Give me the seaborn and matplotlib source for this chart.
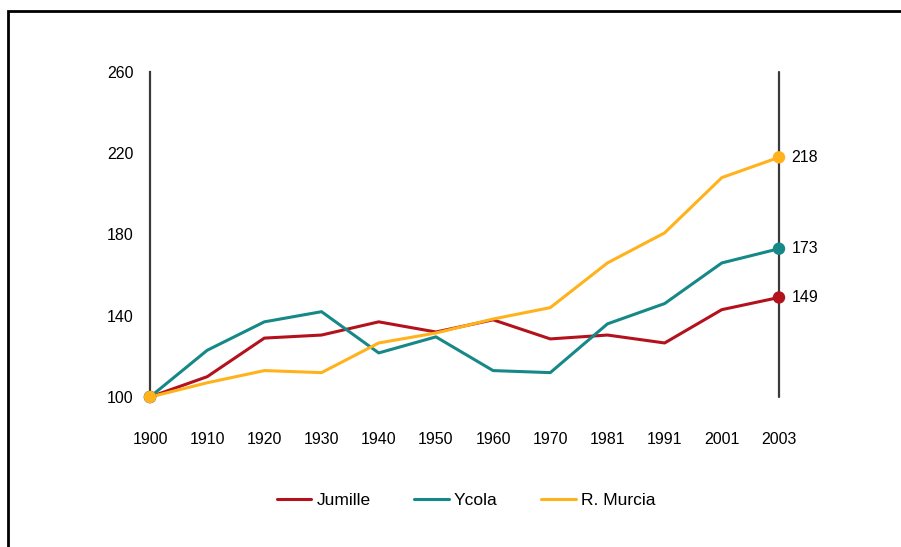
import pandas as pd
import matplotlib.pyplot as plt
import matplotlib.patches as mpatches
import seaborn as sns

years = ['1900', '1910', '1920', '1930', '1940', '1950', '1960', '1970', '1981', '1991', '2001', '2003']
jumille = [100, 110, 129, 130.5, 137, 132, 138, 128.6, 130.5, 126.6, 143, 149]
ycola = [100, 123, 137, 142, 121.7, 129.6, 113, 112, 136, 146, 166, 173]
murcia = [100, 107, 113, 112, 126.6, 131.5, 138.4, 144, 166, 180.8, 208, 218]
series_names = ['Jumille', 'Ycola', 'R. Murcia']
yticks = [100, 140, 180, 220, 260]

colors = {'Jumille': '#B3121C', 'Ycola': '#168887', 'R. Murcia': '#FFB21C'}

sns.set_style('white')
plt.rcParams['font.family'] = ['Liberation Sans', 'DejaVu Sans']

rows = []
for name, vals in zip(series_names, [jumille, ycola, murcia]):
    for i, v in enumerate(vals):
        rows.append({'pos': i, 'year': years[i], 'value': v, 'serie': name})
df = pd.DataFrame(rows)

fig = plt.figure(figsize=(9.01, 5.47), dpi=100)
ax = fig.add_axes([150/901, 1-397/547, (779-150)/901, (397-72)/547])

sns.lineplot(data=df, x='pos', y='value', hue='serie', palette=colors,
             linewidth=2.2, ax=ax, legend=True)

# start / end points
ends = df[df['pos'].isin([0, len(years)-1])]
sns.scatterplot(data=ends, x='pos', y='value', hue='serie', palette=colors,
                s=80, edgecolor='none', ax=ax, legend=False, zorder=5, clip_on=False)

last = df[df['pos'] == len(years)-1]
for _, r in last.iterrows():
    ax.text(len(years)-1 + 0.22, r['value'], f"{r['value']:.0f}", va='center', ha='left',
            fontsize=11.5, color='black')

ax.axvline(len(years)-1, color='#3a3a3a', lw=1.6, zorder=1, clip_on=False)

ax.set_xlim(0, len(years)-1)
ax.set_ylim(100, 260)
ax.set_xticks(range(len(years)))
ax.set_xticklabels(years)
ax.set_yticks(yticks)
ax.set_xlabel('')
ax.set_ylabel('')
ax.tick_params(axis='x', length=0, pad=25, labelsize=11.5, labelcolor='black')
ax.tick_params(axis='y', length=0, pad=12, labelsize=11.5, labelcolor='black')
for side in ['top', 'right', 'bottom']:
    ax.spines[side].set_visible(False)
ax.spines['left'].set_color('#3a3a3a')
ax.spines['left'].set_linewidth(1.6)
ax.grid(False)

handles, labels = ax.get_legend_handles_labels()
ax.legend(handles, labels, loc='center', bbox_to_anchor=(466/901, 1-500/547),
          bbox_transform=fig.transFigure, ncol=3, frameon=False, fontsize=12.5,
          handlelength=2.0, handletextpad=0.3, columnspacing=2.5, labelcolor='black')

# outer frame
fig.patches.append(mpatches.Rectangle((8/901, -0.05), 1.1, 1-11/547+0.05,
                                      transform=fig.transFigure, fill=False,
                                      edgecolor='black', linewidth=2))

plt.savefig('out.png', dpi=100)
